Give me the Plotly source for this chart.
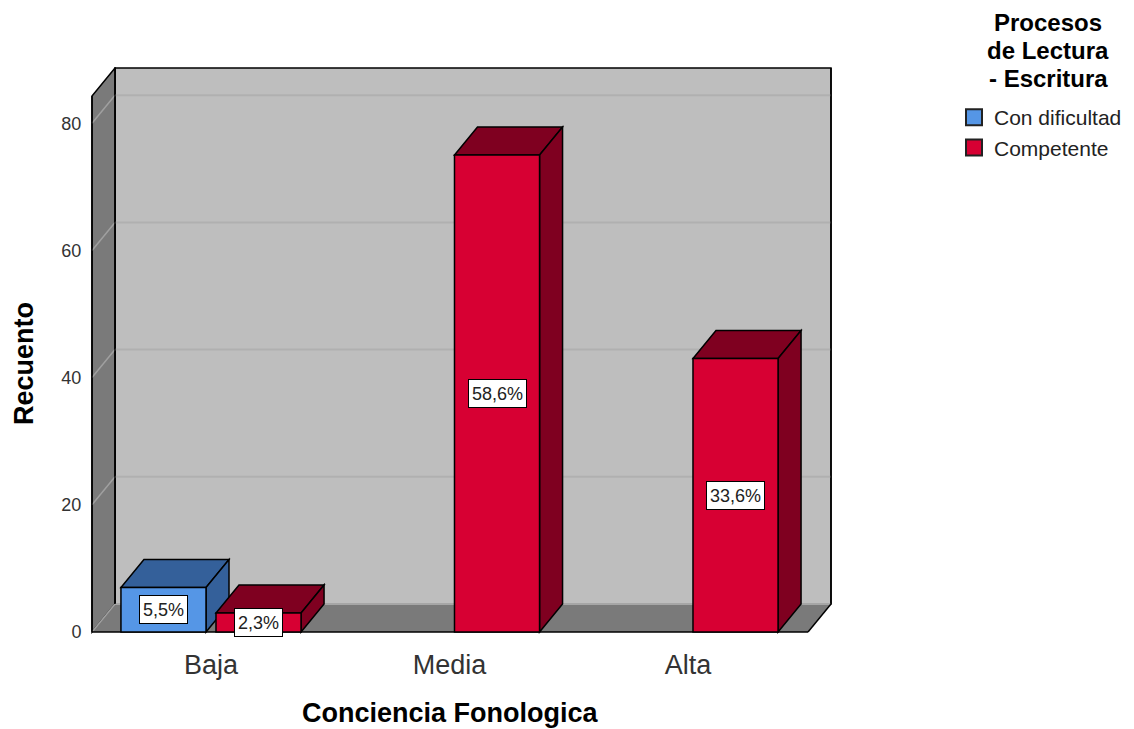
import plotly.graph_objects as go

categories = ["Baja", "Media", "Alta"]
positions = [0, 1, 2]
series_names = ["Con dificultad", "Competente"]
con_dificultad = [7, None, None]
competente = [3, 75, 43]
labels_con_dificultad = ["5,5%", None, None]
labels_competente = ["2,3%", "58,6%", "33,6%"]
y_ticks = [0, 20, 40, 60, 80]
legend_title_lines = ["Procesos", "de Lectura", "- Escritura"]

BLUE, BLUE_D = "#5596E6", "#34609A"
RED, RED_D = "#D70033", "#7F0020"
WALL_D, WALL = "#7A7A7A", "#BEBEBE"
FONT = "Liberation Sans"

# reference-pixel helpers (category spacing 238.5 px, 6.36 px per count)
PAGE = 8  # browser body margin
L, R, T, B = 90, 833, 67, 634
X = lambda px: (px - 211) / 238.5
Y = lambda py: (632 - py) / 6.36
PX = lambda px: (px - L) / (R - L)
PY = lambda py: (B - py) / (B - T)

DX, DY = 23 / 238.5, 28 / 6.36
X0, X1 = X(92), X(808)
YTOP = Y(96)
BARGAP, GROUPGAP = 0.203, 0.105
SLOT = (1 - BARGAP) / 2
BW = SLOT * (1 - GROUPGAP)


def poly(pts, fill, line="#000000", w=1.5):
    d = "M" + "L".join(f"{x},{y}" for x, y in pts) + "Z"
    return dict(type="path", path=d, xref="x", yref="y", fillcolor=fill,
                line=dict(color=line, width=w), layer="below")


def seg(p, q, color, w=1.5):
    return dict(type="line", x0=p[0], y0=p[1], x1=q[0], y1=q[1], xref="x", yref="y",
                line=dict(color=color, width=w), layer="below")


shapes = [
    poly([(X0 + DX, DY), (X1 + DX, DY), (X1 + DX, YTOP + DY), (X0 + DX, YTOP + DY)], WALL, "#000000", 1.5),
    poly([(X0, 0), (X0 + DX, DY), (X0 + DX, YTOP + DY), (X0, YTOP)], WALL_D),
    poly([(X0, 0), (X1, 0), (X1 + DX, DY), (X0 + DX, DY)], WALL_D, "#7A7A7A", 0),
]
for t in y_ticks[1:]:
    shapes.append(seg((X0 + DX, t + DY), (X1 + DX, t + DY), "#B0B0B0", 2))
    shapes.append(seg((X0, t), (X0 + DX, t + DY), "#A0A0A0"))
shapes.append(seg((X0, 0), (X0 + DX, DY), "#A0A0A0"))
shapes.append(seg((X0 + DX, DY), (X1 + DX, DY), "#A6A6A6", 2))
shapes.append(seg((X0, 0), (X1, 0), "#000000", 1.5))
shapes.append(seg((X1, 0), (X1 + DX, DY), "#000000", 1.5))
shapes.append(seg((X1 + DX, DY), (X1 + DX, YTOP + DY), "#000000", 1.5))
shapes.append(seg((X0 + DX, DY), (X0 + DX, YTOP + DY), "#000000", 1.5))
shapes.append(seg((X0, 0), (X0, YTOP), "#000000", 1.5))

annotations = []


def add_faces(values, labels, slot, dark):
    for pos, v, lab in zip(positions, values, labels):
        if v is None:
            continue
        c = pos + (slot - 0.5) * SLOT
        a, b = c - BW / 2, c + BW / 2
        shapes.append(poly([(a, v), (b, v), (b + DX, v + DY), (a + DX, v + DY)], dark))
        shapes.append(poly([(b, 0), (b + DX, DY), (b + DX, v + DY), (b, v)], dark))
        annotations.append(dict(x=c, y=v / 2, xref="x", yref="y", text=lab, showarrow=False,
                                xanchor="center", yanchor="middle",
                                font=dict(family=FONT, size=18, color="#222222"),
                                bgcolor="#FFFFFF", bordercolor="#000000", borderwidth=1,
                                borderpad=3, height=21, align="center"))


add_faces(con_dificultad, labels_con_dificultad, 0, BLUE_D)
add_faces(competente, labels_competente, 1, RED_D)

fig = go.Figure()
for name, vals, col in ((series_names[0], con_dificultad, BLUE), (series_names[1], competente, RED)):
    fig.add_bar(x=positions, y=vals, name=name, showlegend=False, offsetgroup=name,
                marker=dict(color=col, line=dict(color="#000000", width=1.5)))
for name, col in ((series_names[0], BLUE), (series_names[1], RED)):
    fig.add_scatter(x=[None], y=[None], mode="markers", name=name,
                    marker=dict(symbol="square", size=16, color=col, line=dict(color="#222222", width=2)))

for line, py in zip(legend_title_lines, (22, 50, 78)):
    annotations.append(dict(x=PX(1048), y=PY(py), xref="paper", yref="paper", showarrow=False,
                            text=line, align="center", xanchor="center", yanchor="middle",
                            font=dict(family=FONT, size=24, color="#000000", weight="bold")))
annotations.append(dict(x=PX(450), y=PY(713), xref="paper", yref="paper", showarrow=False,
                        text="Conciencia Fonologica", xanchor="center", yanchor="middle",
                        font=dict(family=FONT, size=27, color="#000000", weight="bold")))
annotations.append(dict(x=PX(24), y=PY(364), xref="paper", yref="paper", showarrow=False,
                        text="Recuento", textangle=-90, xanchor="center", yanchor="middle",
                        font=dict(family=FONT, size=27, color="#000000", weight="bold")))

fig.update_layout(
    width=1134 - PAGE, height=729 - PAGE, autosize=False, paper_bgcolor="#FFFFFF", plot_bgcolor="#FFFFFF",
    margin=dict(l=L - PAGE, r=1134 - R, t=T - PAGE, b=729 - B, autoexpand=False),
    barmode="group", bargap=BARGAP, bargroupgap=GROUPGAP,
    shapes=shapes, annotations=annotations, showlegend=True,
    legend=dict(x=PX(954), y=PY(97), xanchor="left", yanchor="top", bgcolor="rgba(0,0,0,0)",
                itemsizing="trace", tracegroupgap=0,
                font=dict(family=FONT, size=21, color="#222222")),
    xaxis=dict(range=[X(L), X(R)], tickvals=positions, ticktext=categories, showgrid=False, zeroline=False,
               showline=False, ticks="outside", ticklen=7, tickcolor="rgba(0,0,0,0)",
               tickfont=dict(family=FONT, size=27, color="#333333")),
    yaxis=dict(range=[Y(B), Y(T)], tickvals=y_ticks, showgrid=False, zeroline=False, showline=False,
               ticks="outside", ticklen=4, tickcolor="rgba(0,0,0,0)",
               tickfont=dict(family=FONT, size=18, color="#333333")),
)
fig.write_html("out.html")
